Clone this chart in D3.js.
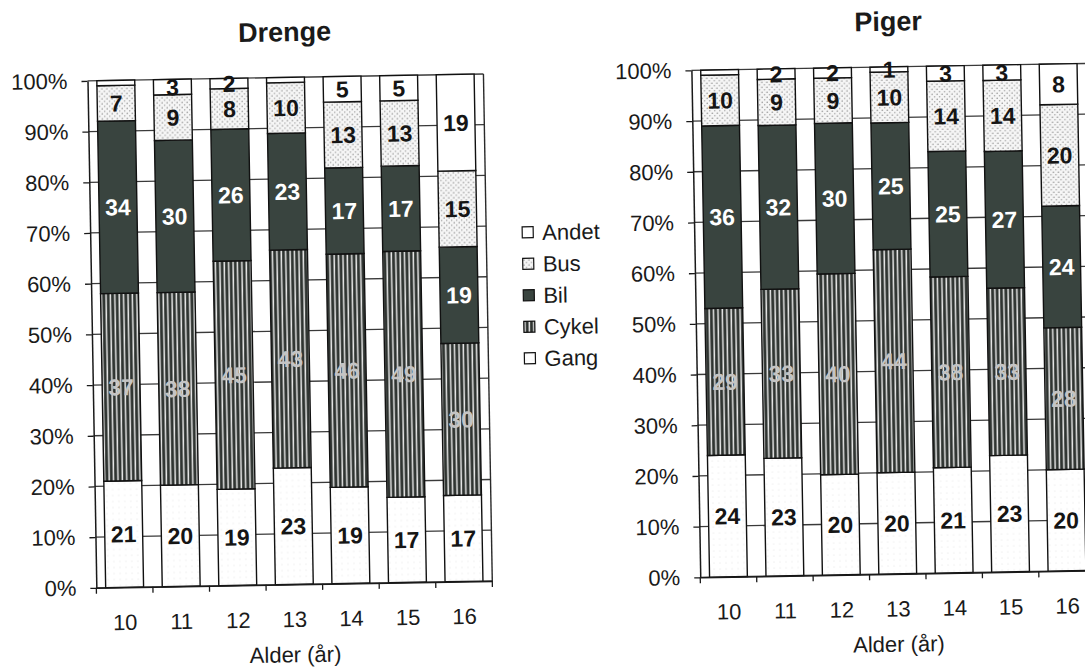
<!DOCTYPE html>
<html>
<head>
<meta charset="utf-8">
<script src="https://cdn.jsdelivr.net/npm/d3@7"></script>
<style>
  html, body { margin: 0; padding: 0; background: #fff; }
  svg { display: block; font-family: "Liberation Sans", Arial, Helvetica, sans-serif; }
</style>
</head>
<body>
<svg id="chart" width="1085" height="670"></svg>
<script>
// Transport to school by age (percent of pupils)
const ages = ["10", "11", "12", "13", "14", "15", "16"];
const modes = ["Gang", "Cykel", "Bil", "Bus", "Andet"];          // stacked bottom → top
const legendOrder = ["Andet", "Bus", "Bil", "Cykel", "Gang"];    // legend top → bottom

const drengeGang  = [21, 20, 19, 23, 19, 17, 17];
const drengeCykel = [37, 38, 45, 43, 46, 49, 30];
const drengeBil   = [34, 30, 26, 23, 17, 17, 19];
const drengeBus   = [7, 9, 8, 10, 13, 13, 15];
const drengeAndet = [1, 3, 2, 1, 5, 5, 19];

const pigerGang  = [24, 23, 20, 20, 21, 23, 20];
const pigerCykel = [29, 33, 40, 44, 38, 33, 28];
const pigerBil   = [36, 32, 30, 25, 25, 27, 24];
const pigerBus   = [10, 9, 9, 10, 14, 14, 20];
const pigerAndet = [1, 2, 2, 1, 3, 3, 8];

const yTickValues = [0, 10, 20, 30, 40, 50, 60, 70, 80, 90, 100];

// segments printed without a value label
const unlabeled = [["Drenge", "10", "Andet"], ["Drenge", "13", "Andet"], ["Piger", "10", "Andet"]];

function rows(gang, cykel, bil, bus, andet) {
  return ages.map((a, i) => ({ age: a, Gang: gang[i], Cykel: cykel[i], Bil: bil[i], Bus: bus[i], Andet: andet[i] }));
}

const panels = [
  { title: "Drenge", data: rows(drengeGang, drengeCykel, drengeBil, drengeBus, drengeAndet), x0: 92, x1: 488 },
  { title: "Piger",  data: rows(pigerGang, pigerCykel, pigerBil, pigerBus, pigerAndet),      x0: 696, x1: 1091 }
];

const svg = d3.select("#chart");
const defs = svg.append("defs");

// fills
const pCykel = defs.append("pattern").attr("id", "pat-cykel").attr("patternUnits", "userSpaceOnUse")
  .attr("width", 4.4).attr("height", 10);
pCykel.append("rect").attr("width", 4.4).attr("height", 10).attr("fill", "#2f3431");
pCykel.append("rect").attr("x", 0.4).attr("width", 1.5).attr("height", 10).attr("fill", "#e6e6e6");

const pBus = defs.append("pattern").attr("id", "pat-bus").attr("patternUnits", "userSpaceOnUse")
  .attr("width", 5).attr("height", 5);
pBus.append("rect").attr("width", 5).attr("height", 5).attr("fill", "#f6f6f6");
pBus.append("circle").attr("cx", 1.2).attr("cy", 1.2).attr("r", 0.75).attr("fill", "#8a8a8a");
pBus.append("circle").attr("cx", 3.7).attr("cy", 3.7).attr("r", 0.75).attr("fill", "#a0a0a0");

const pGang = defs.append("pattern").attr("id", "pat-gang").attr("patternUnits", "userSpaceOnUse")
  .attr("width", 6).attr("height", 6);
pGang.append("rect").attr("width", 6).attr("height", 6).attr("fill", "#ffffff");
pGang.append("circle").attr("cx", 2).attr("cy", 2).attr("r", 0.5).attr("fill", "#dcdcdc");

const fills = {
  Gang: "url(#pat-gang)",
  Cykel: "url(#pat-cykel)",
  Bil: "#39443f",
  Bus: "url(#pat-bus)",
  Andet: "#ffffff"
};
const labelColor = { Gang: "#151515", Cykel: "#c4c4c4", Bil: "#ffffff", Bus: "#151515", Andet: "#151515" };

const ink = "#1a1a1a";
const yTop = 73, yBottom = 580;

// the whole sheet sits slightly tilted
const root = svg.append("g").attr("transform", "rotate(-1, 542, 335)");

const stack = d3.stack().keys(modes).offset(d3.stackOffsetExpand);

panels.forEach(p => {
  const g = root.append("g");
  const x = d3.scaleBand().domain(ages).range([p.x0, p.x1]).paddingInner(0.33).paddingOuter(0.165);
  const y = d3.scaleLinear().domain([0, 1]).range([yBottom, yTop]);

  // grid lines
  g.append("g").selectAll("line").data(yTickValues).join("line")
    .attr("x1", p.x0).attr("x2", p.x1)
    .attr("y1", d => y(d / 100)).attr("y2", d => y(d / 100))
    .attr("stroke", "#3a3a3a").attr("stroke-width", 1.3);

  // right border of plot area
  g.append("line").attr("x1", p.x1).attr("x2", p.x1).attr("y1", y(1)).attr("y2", y(0))
    .attr("stroke", "#2a2a2a").attr("stroke-width", 1.4);

  // stacked bars
  const series = stack(p.data);
  const segs = g.append("g").selectAll("g").data(series).join("g");
  segs.selectAll("rect").data(s => s.map(d => ({ key: s.key, d }))).join("rect")
    .attr("x", o => x(o.d.data.age))
    .attr("width", x.bandwidth())
    .attr("y", o => y(o.d[1]))
    .attr("height", o => y(o.d[0]) - y(o.d[1]))
    .attr("fill", o => fills[o.key])
    .attr("stroke", "#111").attr("stroke-width", 1.4);

  // value labels
  const hidden = new Set(unlabeled.filter(u => u[0] === p.title).map(u => u[1] + "|" + u[2]));
  const labels = [];
  series.forEach(s => s.forEach(d => {
    if (!hidden.has(d.data.age + "|" + s.key)) labels.push({ key: s.key, d });
  }));
  g.append("g").selectAll("text").data(labels).join("text")
    .attr("x", o => x(o.d.data.age) + x.bandwidth() / 2)
    .attr("y", o => y((o.d[0] + o.d[1]) / 2))
    .attr("dy", "0.36em")
    .attr("text-anchor", "middle")
    .attr("font-size", 23)
    .attr("font-weight", "bold")
    .attr("fill", o => labelColor[o.key])
    .text(o => o.d.data[o.key]);

  // y axis
  const yAxis = d3.axisLeft(y).tickValues(yTickValues.map(v => v / 100))
    .tickFormat(d3.format(".0%")).tickSize(6).tickPadding(14).tickSizeOuter(0);
  const ya = g.append("g").attr("transform", `translate(${p.x0},0)`).call(yAxis);
  ya.select(".domain").attr("stroke", "#1a1a1a").attr("stroke-width", 1.5);
  ya.selectAll(".tick line").attr("stroke", "#1a1a1a").attr("stroke-width", 1.3);
  ya.selectAll(".tick text").attr("font-size", 22).attr("fill", ink)
    .attr("font-family", "Liberation Sans, Arial, sans-serif");

  // x axis: labels centred on bars, ticks between categories
  const xAxis = d3.axisBottom(x).tickSize(0).tickPadding(27).tickSizeOuter(0);
  const xa = g.append("g").attr("transform", `translate(0,${yBottom})`).call(xAxis);
  xa.select(".domain").attr("stroke", "#1a1a1a").attr("stroke-width", 1.5);
  xa.selectAll(".tick text").attr("font-size", 22).attr("fill", ink)
    .attr("font-family", "Liberation Sans, Arial, sans-serif");
  const bounds = d3.range(ages.length + 1).map(i => x.range()[0] + i * x.step());
  xa.append("g").selectAll("line").data(bounds).join("line")
    .attr("x1", d => d).attr("x2", d => d).attr("y1", 0).attr("y2", 6)
    .attr("stroke", "#1a1a1a").attr("stroke-width", 1.3);

  // axis title and panel title
  const cx = (p.x0 + p.x1) / 2;
  g.append("text").attr("x", cx).attr("y", 650).attr("dy", "0.36em")
    .attr("text-anchor", "middle").attr("font-size", 22).attr("fill", ink)
    .text("Alder (år)");
  g.append("text").attr("x", cx).attr("y", 27).attr("dy", "0.36em")
    .attr("text-anchor", "middle").attr("font-size", 27).attr("font-weight", "bold").attr("fill", ink)
    .text(p.title);
});

// legend between the panels
const legendY = d3.scalePoint().domain(legendOrder).range([232, 358]);
const lg = root.append("g");
const items = lg.selectAll("g").data(legendOrder).join("g")
  .attr("transform", d => `translate(524,${legendY(d)})`);
items.append("rect").attr("x", 0).attr("y", -5.5).attr("width", 11).attr("height", 11)
  .attr("fill", d => fills[d]).attr("stroke", "#111").attr("stroke-width", 1.2);
items.append("text").attr("x", 20).attr("dy", "0.36em").attr("font-size", 22).attr("fill", ink)
  .text(d => d);
</script>
</body>
</html>
